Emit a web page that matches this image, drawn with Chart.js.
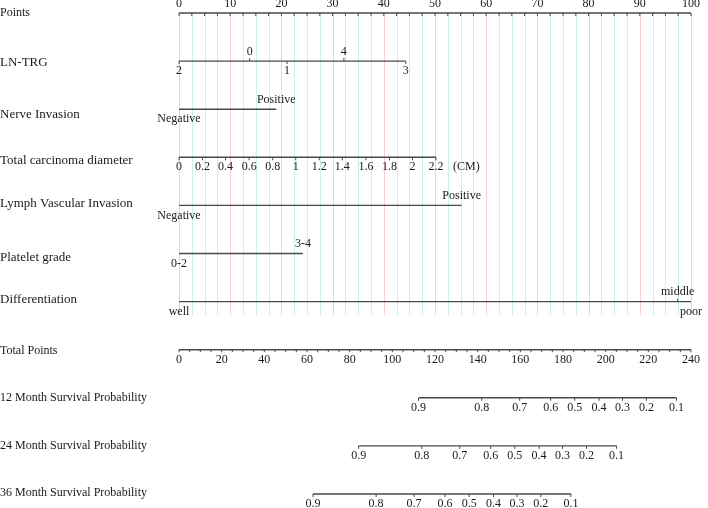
<!DOCTYPE html>
<html>
<head>
<meta charset="utf-8">
<script src="https://cdn.jsdelivr.net/npm/chart.js@4/dist/chart.umd.min.js"></script>
<style>
  body { margin: 0; background: #fff; }
  canvas { display: block; }
</style>
</head>
<body>
<canvas id="nomo" width="708" height="508"></canvas>
<script>
// rows of the nomogram, top to bottom
const rowNames = ["Points", "LN-TRG", "Nerve Invasion", "Total carcinoma diameter",
  "Lymph Vascular Invasion", "Platelet grade", "Differentiation", "Total Points",
  "12 Month Survival Probability", "24 Month Survival Probability", "36 Month Survival Probability"];
const rowLabelShift = [0, 1, 5, 3, -2, 4, -2, 1, 0, 0, -1];
const rowLabelSize = [12, 13, 13, 13, 13, 13, 13, 12, 12, 12, 12];

// Points axis
const pointTicks = [0, 10, 20, 30, 40, 50, 60, 70, 80, 90, 100];
const pointMinorStep = 2.5;

// predictors: level labels, their points, label side
const lnTrgLevels = ["2", "1", "3", "0", "4"];
const lnTrgPoints = [0, 21.1, 44.3, 13.8, 32.2];
const lnTrgSide = ["below", "below", "below", "above", "above"];

const nerveLevels = ["Negative", "Positive"];
const nervePoints = [0, 19.0];

const diameterLabels = ["0", "0.2", "0.4", "0.6", "0.8", "1", "1.2", "1.4", "1.6", "1.8", "2", "2.2"];
const diameterPoints = [0, 4.6, 9.1, 13.7, 18.3, 22.8, 27.4, 31.9, 36.5, 41.1, 45.6, 50.2];

const lymphLevels = ["Negative", "Positive"];
const lymphPoints = [0, 55.2];

const plateletLevels = ["0-2", "3-4"];
const plateletPoints = [0, 24.2];

const diffLevels = ["well", "poor", "middle"];
const diffPoints = [0, 100, 97.4];
const diffSide = ["below", "below", "above"];

// Total points axis
const totalTicks = [0, 20, 40, 60, 80, 100, 120, 140, 160, 180, 200, 220, 240];
const totalMinorStep = 5;
const totalMax = 240;

// survival probabilities, positioned in total points
const probLabels = ["0.9", "0.8", "0.7", "0.6", "0.5", "0.4", "0.3", "0.2", "0.1"];
const surv12 = [112.3, 141.9, 159.7, 174.2, 185.5, 196.9, 207.9, 219.1, 233.2];
const surv24 = [84.2, 113.8, 131.6, 146.1, 157.4, 168.8, 179.8, 191.0, 205.1];
const surv36 = [62.8, 92.4, 110.2, 124.7, 136.0, 147.4, 158.4, 169.6, 183.7];

const FAMILY = "'Liberation Serif', 'DejaVu Serif', serif";
const FONT = "12px " + FAMILY;
const LINE = "#4a4a4a";
const TXT = "#1a1a1a";

function tp(v) { return v * 100 / totalMax; }

function seg(row, a, b) {
  return {
    data: [{ x: a, y: row }, { x: b, y: row }],
    showLine: true, borderColor: LINE, borderWidth: 1.4,
    pointRadius: 0, clip: false
  };
}

const datasets = [
  seg(0, 0, 100),
  seg(1, Math.min(...lnTrgPoints), Math.max(...lnTrgPoints)),
  seg(2, nervePoints[0], nervePoints[1]),
  seg(3, diameterPoints[0], diameterPoints[diameterPoints.length - 1]),
  seg(4, lymphPoints[0], lymphPoints[1]),
  seg(5, plateletPoints[0], plateletPoints[1]),
  seg(6, 0, 100),
  seg(7, 0, tp(totalMax)),
  seg(8, tp(surv12[0]), tp(surv12[8])),
  seg(9, tp(surv24[0]), tp(surv24[8])),
  seg(10, tp(surv36[0]), tp(surv36[8]))
];

const nomoPlugin = {
  id: "nomo",
  beforeDatasetsDraw(chart) {
    const { ctx, scales: { x, y } } = chart;
    const top = y.getPixelForValue(0), bottom = y.getPixelForValue(6.28);
    ctx.save();
    ctx.lineWidth = 1;
    for (let v = 0; v <= 100.001; v += pointMinorStep) {
      const px = Math.round(x.getPixelForValue(v)) + 0.5;
      ctx.strokeStyle = (Math.abs(v % 10) < 0.01) ? "rgba(255,0,0,0.2)" : "rgba(0,185,160,0.2)";
      ctx.beginPath(); ctx.moveTo(px, top); ctx.lineTo(px, bottom); ctx.stroke();
    }
    ctx.restore();
  },
  afterDraw(chart) {
    const { ctx, scales: { x, y } } = chart;
    ctx.save();
    ctx.fillStyle = TXT;
    ctx.strokeStyle = LINE;
    ctx.lineWidth = 1;

    // row titles
    ctx.textAlign = "left";
    ctx.textBaseline = "middle";
    rowNames.forEach((n, i) => {
      ctx.font = rowLabelSize[i] + "px " + FAMILY;
      ctx.fillText(n, 0, y.getPixelForValue(i) + rowLabelShift[i]);
    });
    ctx.font = FONT;

    function tick(row, v, side, len) {
      const px = x.getPixelForValue(v), py = y.getPixelForValue(row);
      ctx.beginPath();
      ctx.moveTo(px, py);
      ctx.lineTo(px, side === "above" ? py - len : py + len);
      ctx.stroke();
    }
    function label(row, v, text, side) {
      const px = x.getPixelForValue(v), py = y.getPixelForValue(row);
      ctx.textAlign = "center";
      ctx.fillText(text, px, side === "above" ? py - 9.5 : py + 10);
    }

    // Points
    for (let v = 0; v <= 100.001; v += pointMinorStep) tick(0, v, "below", 3);
    pointTicks.forEach(v => label(0, v, String(v), "above"));

    // LN-TRG
    lnTrgLevels.forEach((t, i) => { tick(1, lnTrgPoints[i], lnTrgSide[i], 3); label(1, lnTrgPoints[i], t, lnTrgSide[i]); });
    // Nerve invasion
    label(2, nervePoints[0], nerveLevels[0], "below");
    label(2, nervePoints[1], nerveLevels[1], "above");
    // diameter
    diameterLabels.forEach((t, i) => { tick(3, diameterPoints[i], "below", 3); label(3, diameterPoints[i], t, "below"); });
    ctx.textAlign = "left";
    ctx.fillText("(CM)", x.getPixelForValue(diameterPoints[diameterPoints.length - 1]) + 17, y.getPixelForValue(3) + 10);
    // lymph vascular
    label(4, lymphPoints[0], lymphLevels[0], "below");
    label(4, lymphPoints[1], lymphLevels[1], "above");
    // platelet
    label(5, plateletPoints[0], plateletLevels[0], "below");
    label(5, plateletPoints[1], plateletLevels[1], "above");
    // differentiation
    diffLevels.forEach((t, i) => { if (diffSide[i] === "above") tick(6, diffPoints[i], "above", 3); label(6, diffPoints[i], t, diffSide[i]); });

    // Total points
    for (let v = 0; v <= totalMax; v += totalMinorStep) tick(7, tp(v), "below", 2.5);
    totalTicks.forEach(v => label(7, tp(v), String(v), "below"));

    // survival rows
    [surv12, surv24, surv36].forEach((arr, k) => {
      arr.forEach((v, i) => { tick(8 + k, tp(v), "below", 3); label(8 + k, tp(v), probLabels[i], "below"); });
    });
    ctx.restore();
  }
};

new Chart(document.getElementById("nomo"), {
  type: "scatter",
  data: { datasets: datasets },
  options: {
    responsive: false,
    animation: false,
    devicePixelRatio: 1,
    layout: { padding: { left: 179, right: 17, top: 13, bottom: 14 } },
    plugins: { legend: { display: false }, tooltip: { enabled: false } },
    scales: {
      x: { type: "linear", min: 0, max: 100, display: false },
      y: { type: "linear", min: 0, max: 10, reverse: true, display: false }
    }
  },
  plugins: [nomoPlugin]
});
</script>
</body>
</html>
